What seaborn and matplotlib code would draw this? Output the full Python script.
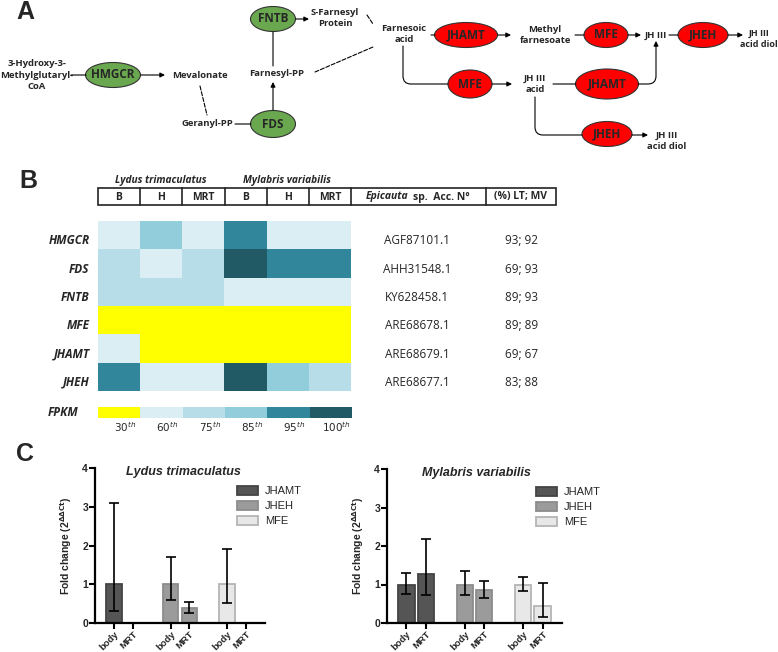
import matplotlib
matplotlib.use("Agg")
import matplotlib.pyplot as plt
from matplotlib.patches import Ellipse, Rectangle, Patch
from matplotlib.colors import ListedColormap
import numpy as np
import pandas as pd
import seaborn as sns

W, H = 778, 652

# --- panel B data ---
genes = ["HMGCR", "FDS", "FNTB", "MFE", "JHAMT", "JHEH"]
tissues = ["B", "H", "MRT", "B", "H", "MRT"]
species = ["Lydus trimaculatus", "Mylabris variabilis"]
pct_levels = [30, 60, 75, 85, 95, 100]
fpkm_pct = [
    [60, 85, 60, 95, 60, 60],
    [75, 60, 75, 100, 95, 95],
    [75, 75, 75, 60, 60, 60],
    [30, 30, 30, 30, 30, 30],
    [60, 30, 30, 30, 30, 30],
    [95, 60, 60, 100, 85, 75],
]
acc_numbers = ["AGF87101.1", "AHH31548.1", "KY628458.1",
               "ARE68678.1", "ARE68679.1", "ARE68677.1"]
identity = ["93; 92", "69; 93", "89; 93", "89; 89", "69; 67", "83; 88"]
pct_colors = ["#ffff00", "#dbeef3", "#b7dee8", "#92cddc", "#32869b", "#215a64"]

# --- panel C data ---
qpcr_genes = ["JHAMT", "JHEH", "MFE"]
samples = ["body", "MRT"]
lydus_fold = [1.0, 0.0, 1.0, 0.38, 1.0, 0.0]
lydus_lo = [0.32, np.nan, 0.59, 0.26, 0.52, np.nan]
lydus_hi = [3.1, np.nan, 1.7, 0.55, 1.9, np.nan]
myl_fold = [1.0, 1.27, 1.0, 0.85, 1.0, 0.44]
myl_lo = [0.75, 0.72, 0.74, 0.64, 0.83, 0.16]
myl_hi = [1.3, 2.17, 1.35, 1.08, 1.2, 1.04]
bar_colors = {"JHAMT": "#555555", "JHEH": "#9b9b9b", "MFE": "#e8e8e8"}
bar_edges = {"JHAMT": "#444444", "JHEH": "#8c8c8c", "MFE": "#b5b5b5"}

sns.set_style("white")
plt.rcParams["font.family"] = ["Open Sans", "DejaVu Sans"]
ARIAL = "Liberation Sans"


def px_axes(x0, y0, x1, y1):
    return fig.add_axes([x0 / W, 1 - y1 / H, (x1 - x0) / W, (y1 - y0) / H])


fig = plt.figure(figsize=(7.78, 6.52), dpi=100)
ov = fig.add_axes([0, 0, 1, 1])
ov.set_xlim(0, W)
ov.set_ylim(H, 0)
ov.axis("off")

# panel letters
for letter, (x, y) in zip("ABC", [(25, 12), (28, 181), (25, 454)]):
    ov.text(x, y, letter, fontsize=18, fontweight="bold", ha="center", va="center",
            family=ARIAL)

# ---------------- panel A: pathway ----------------
GREEN, RED = "#6aa84f", "#ff0000"


def node(x, y, w, h, label, fc):
    ov.add_patch(Ellipse((x, y), w, h, fc=fc, ec="#333333", lw=0.8))
    ov.text(x, y, label, ha="center", va="center", fontsize=8.5, fontweight="bold")


def link(p0, p1, arrow=False, dashed=False, conn="arc3"):
    ov.annotate("", xy=p1, xytext=p0,
                arrowprops=dict(arrowstyle="-|>" if arrow else "-", color="k", lw=0.8,
                                ls="--" if dashed else "-", shrinkA=0, shrinkB=0,
                                mutation_scale=7, connectionstyle=conn))


def label(x, y, s, size=6.8):
    ov.text(x, y, s, ha="center", va="center", fontsize=size, fontweight="bold",
            linespacing=1.3)


node(113, 75, 55, 25, "HMGCR", GREEN)
node(273, 19, 45, 25, "FNTB", GREEN)
node(273, 124, 45, 27, "FDS", GREEN)
node(466, 35, 63, 25, "JHAMT", RED)
node(606, 35, 44, 25, "MFE", RED)
node(703, 35, 50, 25, "JHEH", RED)
node(470, 84, 44, 28, "MFE", RED)
node(607, 84, 63, 30, "JHAMT", RED)
node(607, 134, 50, 25, "JHEH", RED)

label(37, 75, "3-Hydroxy-3-\nMethylglutaryl-\nCoA")
label(200, 75, "Mevalonate")
label(277, 74, "Farnesyl-PP")
label(207, 124, "Geranyl-PP")
label(335, 18, "S-Farnesyl\nProtein")
label(404, 34, "Farnesoic\nacid")
label(545, 35, "Methyl\nfarnesoate")
label(656, 35, "JH III")
label(759, 39, "JH III\nacid diol", size=6.5)
label(535, 84, "JH III\nacid")
label(667, 141, "JH III\nacid diol")

link((71, 75), (86, 75))
link((141, 75), (165, 75), arrow=True)
link((200, 86), (207, 115), dashed=True)
link((235, 124), (251, 124))
link((273, 110), (273, 82), arrow=True)
link((273, 66), (273, 32))
link((296, 19), (309, 19), arrow=True)
link((367, 15), (373, 24), dashed=True)
link((315, 72), (373, 47), dashed=True)
link((431, 35), (435, 35))
link((498, 35), (511, 35), arrow=True)
link((575, 35), (584, 35))
link((628, 35), (641, 35), arrow=True)
link((669, 35), (678, 35))
link((728, 35), (743, 35), arrow=True)
link((403, 46), (448, 84), conn="angle,angleA=90,angleB=0,rad=8")
link((492, 84), (512, 84), arrow=True)
link((553, 84), (576, 84))
link((638, 84), (656, 41), arrow=True, conn="angle,angleA=0,angleB=90,rad=8")
link((535, 97), (582, 135), conn="angle,angleA=90,angleB=0,rad=8")
link((632, 135), (648, 135), arrow=True)

# ---------------- panel B: header table ----------------
col_edges = [98, 140, 182, 225, 267, 309, 351, 486, 556]
ov.add_patch(Rectangle((98, 188), 458, 17, fill=False, lw=1.2, ec="#222222"))
for x in col_edges[1:-1]:
    ov.plot([x, x], [188, 205], color="#222222", lw=1.2)
for i, t in enumerate(tissues):
    ov.text((col_edges[i] + col_edges[i + 1]) / 2, 197, t, ha="center", va="center",
            fontsize=7.5, fontweight="bold")
ov.text(408, 197, "Epicauta", ha="right", va="center", fontsize=7.5,
        fontweight="bold", style="italic")
ov.text(413, 197, "sp.  Acc. N°", ha="left", va="center", fontsize=7.5,
        fontweight="bold")
ov.text(521, 197, "(%) LT; MV", ha="center", va="center", fontsize=7.5,
        fontweight="bold")
ov.text(161, 180, species[0], ha="center", va="center", fontsize=7.3,
        fontweight="bold", style="italic")
ov.text(287, 180, species[1], ha="center", va="center", fontsize=7.3,
        fontweight="bold", style="italic")

# heatmap
cmap = ListedColormap(pct_colors)
pct_idx = np.array([[pct_levels.index(v) for v in row] for row in fpkm_pct])
ax_hm = px_axes(98, 221, 351, 391)
sns.heatmap(pct_idx, ax=ax_hm, cmap=cmap, vmin=-0.5, vmax=5.5, cbar=False,
            xticklabels=False, yticklabels=genes)
ax_hm.set_yticks(np.arange(len(genes)) + 0.7, labels=genes, rotation=0,
                 fontsize=8.5, fontweight="bold", style="italic")
ax_hm.tick_params(axis="y", length=0, pad=6)
for i in range(len(genes)):
    ax_hm.text(7.57, i + 0.7, acc_numbers[i], ha="center", va="center",
               fontsize=8.5, clip_on=False)
    ax_hm.text(10.05, i + 0.7, identity[i], ha="center", va="center",
               fontsize=8.5, clip_on=False)

# FPKM key
ax_key = px_axes(98, 407, 352, 418)
sns.heatmap([list(range(len(pct_levels)))], ax=ax_key, cmap=cmap, vmin=-0.5,
            vmax=5.5, cbar=False, xticklabels=False, yticklabels=False)
ax_key.set_xticks(np.arange(len(pct_levels)) + 0.64,
                  labels=[r"$\mathit{%d}^{\mathit{th}}$" % p for p in pct_levels],
                  fontsize=7.5)
ax_key.tick_params(axis="x", length=0, pad=2)
ov.text(48, 413, "FPKM", ha="left", va="center", fontsize=8.5, fontweight="bold",
        style="italic")


# ---------------- panel C: qPCR bars ----------------
def draw_bars(box, fold, lo, hi, title, title_x, leg_xy):
    ax = px_axes(*box)
    pos = [3 * g + s for g in range(len(qpcr_genes)) for s in range(len(samples))]
    df = pd.DataFrame({"pos": pos, "gene": np.repeat(qpcr_genes, len(samples)),
                       "fold": fold})
    sns.barplot(df, x="pos", y="fold", hue="gene", native_scale=True, dodge=False,
                palette=bar_colors, width=0.84, errorbar=None, ax=ax, legend=False,
                linewidth=1.3)
    for cont, g in zip(ax.containers, qpcr_genes):
        for bar in cont:
            bar.set_edgecolor(bar_edges[g])
    fold = np.array(fold)
    ax.errorbar(pos, fold, yerr=[fold - np.array(lo), np.array(hi) - fold],
                fmt="none", ecolor="black", elinewidth=1.2, capsize=3.5, capthick=1.2)
    ax.set_xlim(-1, 8)
    ax.set_ylim(0, 4)
    ax.set_yticks(range(5))
    ax.set_xticks(pos, labels=samples * len(qpcr_genes))
    for t in ax.get_xticklabels():
        t.set(rotation=45, ha="right", rotation_mode="anchor", fontweight="bold",
              family=ARIAL, fontsize=6.8)
    for t in ax.get_yticklabels():
        t.set(fontweight="bold", family=ARIAL, fontsize=7.5)
    ax.tick_params(length=4, width=1.5, direction="out", pad=1, color="black",
                   bottom=True, left=True)
    sns.despine(ax=ax)
    for sp in ("left", "bottom"):
        ax.spines[sp].set_linewidth(1.6)
        ax.spines[sp].set_color("black")
    ax.set_xlabel("")
    ax.set_ylabel(r"Fold change (2$^{\mathbf{\Delta\Delta Ct}}$)", fontweight="bold",
                  family=ARIAL, fontsize=7.5, labelpad=6)
    ax.text(title_x, 3.9, title, ha="center", va="center", fontsize=9,
            fontweight="bold", style="italic", family=ARIAL)
    handles = [Patch(fc=bar_colors[g], ec=bar_edges[g], lw=1.3) for g in qpcr_genes]
    ax.legend(handles, qpcr_genes, loc="upper left",
              bbox_to_anchor=(leg_xy[0] / W, 1 - leg_xy[1] / H),
              bbox_transform=fig.transFigure, frameon=False, handlelength=1.9,
              handleheight=0.8, labelspacing=0.45, borderpad=0, borderaxespad=0,
              handletextpad=0.6, prop=dict(family=ARIAL, size=8))
    return ax


draw_bars((95, 468, 265, 623), lydus_fold, lydus_lo, lydus_hi, species[0], 3.7,
          (237, 486))
draw_bars((387, 469, 562, 623), myl_fold, myl_lo, myl_hi, species[1], 3.6,
          (536, 487))

fig.savefig("out.png", dpi=100)
